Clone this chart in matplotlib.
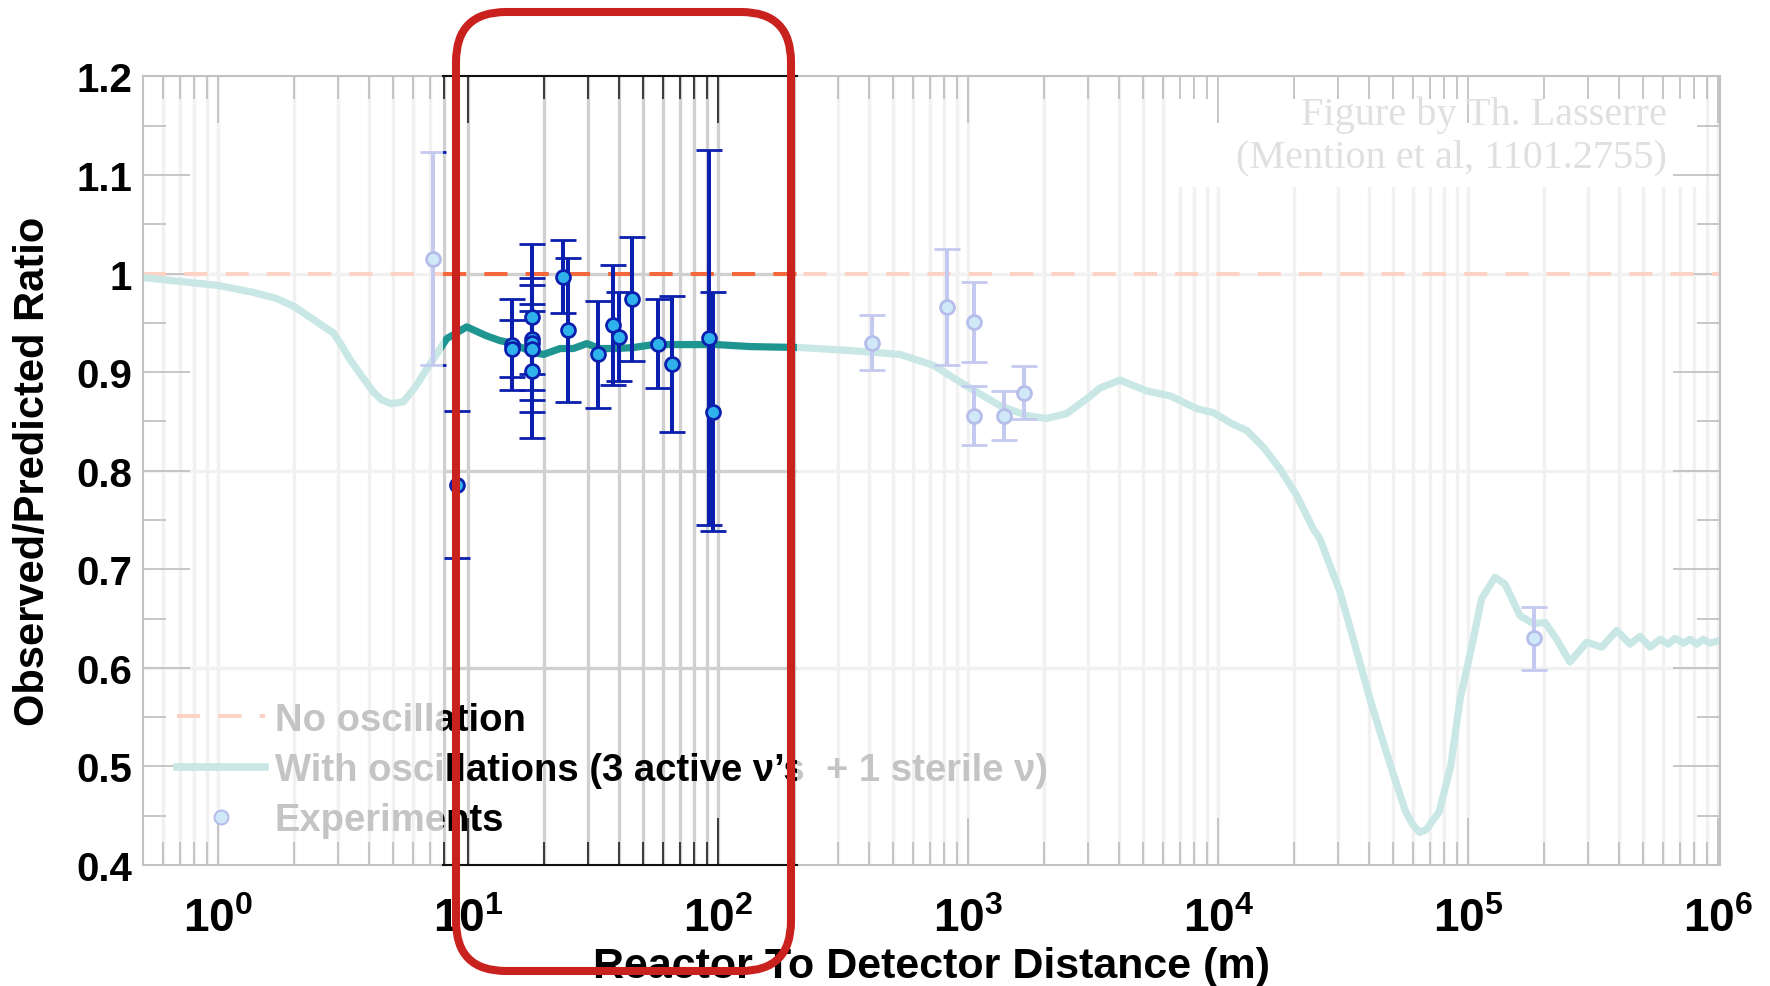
import numpy as np
import matplotlib
matplotlib.use('Agg')
import matplotlib.pyplot as plt
from matplotlib.ticker import LogLocator, FixedLocator, FixedFormatter, NullFormatter, MultipleLocator
from matplotlib.patches import FancyBboxPatch, Rectangle
from matplotlib.lines import Line2D
from matplotlib.transforms import IdentityTransform

plt.rcParams['font.family'] = ['Liberation Sans', 'DejaVu Sans']
plt.rcParams['font.weight'] = 'bold'
plt.rcParams['mathtext.fontset'] = 'custom'
plt.rcParams['mathtext.rm'] = 'Liberation Sans:bold'
plt.rcParams['mathtext.bf'] = 'Liberation Sans:bold'
plt.rcParams['mathtext.default'] = 'regular'

# ---------------- data ----------------
curve_distance = [0.5, 1.0, 1.38, 1.7, 2.0, 2.2, 2.48, 2.88, 3.1, 3.36, 3.75, 4.17, 4.5, 4.9, 5.5,
                  6.1, 6.82, 7.5, 8.2, 9.86, 11.8,
                  13.4, 14.7, 18.2, 20.0, 23.3, 26.3, 29.8, 33.6, 39.2, 45.7, 55.0, 72.4, 98.5,
                  134, 212, 336, 533, 725, 985, 1339, 1713, 2058, 2475, 2977, 3366, 4045, 5170,
                  6410, 8200, 9550, 11480, 12990, 15140, 17650, 20590, 23990, 25500, 30700,
                  34700, 40500, 45000, 49000, 56000, 60000, 64000, 68000, 72000, 76500, 85000,
                  92700, 104700, 113000,
                  127900, 140300, 161000, 182000, 203000, 225600, 255000, 297700, 342000, 392600,
                  443600, 486400, 533300, 584800, 631000, 671000, 724400, 770900, 819900, 871000,
                  926000, 1.016e6]
curve_ratio = [0.996, 0.988, 0.981, 0.975, 0.967, 0.960, 0.951, 0.940, 0.928, 0.913, 0.896, 0.880,
               0.872, 0.868, 0.870, 0.884, 0.903, 0.919, 0.934,
               0.946, 0.937, 0.932, 0.930, 0.920, 0.918, 0.924, 0.924, 0.929, 0.924, 0.924, 0.925,
               0.928, 0.928, 0.928, 0.926, 0.925, 0.922, 0.918, 0.907, 0.886, 0.866, 0.856, 0.853,
               0.858, 0.873, 0.884, 0.892, 0.881, 0.876, 0.863, 0.859, 0.847, 0.841, 0.824, 0.802,
               0.775, 0.741, 0.731, 0.677, 0.629, 0.568, 0.530, 0.500, 0.455, 0.441, 0.433, 0.436,
               0.445, 0.454, 0.500,
               0.568, 0.629, 0.670, 0.692, 0.685, 0.653, 0.645, 0.646, 0.629, 0.606, 0.626, 0.621,
               0.638, 0.624, 0.632, 0.621, 0.629, 0.624, 0.630, 0.625, 0.629, 0.624, 0.629, 0.625,
               0.628]

exp_distance = [7.24, 8.99, 14.9, 14.9, 18.0, 18.0, 18.0, 18.0, 18.0, 24.0, 25.1, 32.9, 38.0, 39.9,
                45.1, 57.2, 65.5, 92.0, 95.0, 413, 824, 1054, 1054, 1390, 1671, 183000]
exp_ratio = [1.015, 0.786, 0.928, 0.924, 0.956, 0.934, 0.930, 0.924, 0.901, 0.997, 0.943, 0.918,
             0.948, 0.936, 0.974, 0.929, 0.908, 0.935, 0.860, 0.930, 0.966, 0.951, 0.856, 0.856,
             0.879, 0.630]
exp_error = [0.108, 0.075, 0.046, 0.029, 0.074, 0.062, 0.032, 0.064, 0.068, 0.037, 0.073, 0.054,
             0.061, 0.045, 0.063, 0.045, 0.069, 0.190, 0.121, 0.028, 0.059, 0.041, 0.030, 0.025,
             0.027, 0.032]

no_oscillation_level = 1.0
ytick_values = [0.4, 0.5, 0.6, 0.7, 0.8, 0.9, 1.0, 1.1, 1.2]
ytick_labels = ['0.4', '0.5', '0.6', '0.7', '0.8', '0.9', '1', '1.1', '1.2']
grid_y = [0.6, 0.8, 1.0]
highlight_range = (7.93, 206.0)
legend_labels = ['No oscillation',
                 'With oscillations (3 active \u03bd\u2019s  + 1 sterile \u03bd)',
                 'Experiments']

# ---------------- styles ----------------
faded = dict(grid='#f1f1f1', dash='#fdd3c6', curve='#c8e7e5', ebar='#c4c9ef',
             mface='#cfe9f8', medge='#b6bdea', tick='#b8b8b8', spine='#c2c2c2')
dark = dict(grid='#d0d0d0', dash='#f4693c', curve='#1e9590', ebar='#0b1fae',
            mface='#2fb2ec', medge='#0b1fae', tick='#111111', spine='#111111')

fig = plt.figure(figsize=(17.7, 9.87), dpi=100)
ax = fig.add_axes([0.08079, 0.12259, 0.89096, 0.79889])


def setup_axis(a, xlim, st):
    a.set_xscale('log')
    a.set_xlim(*xlim)
    a.set_ylim(0.4, 1.2)
    a.xaxis.set_major_locator(LogLocator(base=10, numticks=20))
    a.xaxis.set_minor_locator(LogLocator(base=10, subs=np.arange(2, 10), numticks=100))
    a.xaxis.set_minor_formatter(NullFormatter())
    a.tick_params(axis='x', which='major', direction='in', length=34, width=1.1,
                  color=st['tick'], top=True, bottom=True)
    a.tick_params(axis='x', which='minor', direction='in', length=16.5, width=1.1,
                  color=st['tick'], top=True, bottom=True)
    for s in a.spines.values():
        s.set_color(st['spine'])
        s.set_linewidth(1.5)


def draw_layer(a, st):
    lo, hi = a.get_xlim()
    locs = list(a.xaxis.get_majorticklocs()) + list(a.xaxis.get_minorticklocs())
    for v in locs:
        if lo < v < hi:
            a.axvline(v, color=st['grid'], lw=2.4, zorder=0.3)
    for v in grid_y:
        a.axhline(v, color=st['grid'], lw=2.4, zorder=0.3)
    a.axhline(no_oscillation_level, color=st['dash'], lw=2.9, dashes=(5.75, 4.5), zorder=1.8)
    a.plot(curve_distance, curve_ratio, color=st['curve'], lw=5.2, solid_joinstyle='round',
           solid_capstyle='round', zorder=2)
    a.errorbar(exp_distance, exp_ratio, yerr=exp_error, fmt='o', ms=10, mfc=st['mface'],
               mec=st['medge'], mew=2.0, ecolor=st['ebar'], elinewidth=2.9, capsize=9.6,
               capthick=2.9, zorder=4)


# main (faded) axes
setup_axis(ax, (0.5, 1.016e6), faded)
ax.yaxis.set_major_locator(FixedLocator(ytick_values))
ax.yaxis.set_major_formatter(FixedFormatter(ytick_labels))
ax.yaxis.set_minor_locator(MultipleLocator(0.05))
ax.tick_params(axis='y', which='major', direction='in', length=34, width=1.1,
               color=faded['tick'], left=True, right=True, labelsize=29, pad=8)
ax.tick_params(axis='y', which='minor', direction='in', length=16.5, width=1.1,
               color=faded['tick'], left=True, right=True)
ax.tick_params(axis='x', which='major', labelsize=33, pad=23)
draw_layer(ax, faded)

# watermark box and text
ax.add_patch(Rectangle((0.651, 0.86), 0.34, 0.14, transform=ax.transAxes,
                       facecolor='white', edgecolor='none', zorder=0.6))
fig.text(0.942, 0.8734, 'Figure by Th. Lasserre', ha='right', va='baseline',
         family='Liberation Serif', fontweight='normal', size=29, color='#e0e0e0')
fig.text(0.942, 0.8308, '(Mention et al, 1101.2755)', ha='right', va='baseline',
         family='Liberation Serif', fontweight='normal', size=29, color='#e0e0e0')

ax.set_xlabel('Reactor To Detector Distance (m)', fontsize=31, fontweight='bold')
ax.xaxis.set_label_coords(0.5, -0.103)
ax.set_ylabel('Observed/Predicted Ratio', fontsize=30, fontweight='bold', va='center')
ax.yaxis.set_label_coords(-0.0700, 0.5)

handles = [Line2D([], [], color=faded['dash'], lw=2.9, dashes=(5.75, 4.5)),
           Line2D([], [], color=faded['curve'], lw=5.5),
           Line2D([], [], ls='none', marker='o', ms=10, mfc=faded['mface'], mec=faded['medge'], mew=1.5)]
leg = ax.legend(handles, legend_labels, loc='upper left', bbox_to_anchor=(0.0214, 0.207),
                frameon=False, prop={'size': 27.5, 'weight': 'bold'}, labelcolor='#c4c4c4',
                handlelength=2.3, handletextpad=0.27, labelspacing=0.37, borderpad=0,
                borderaxespad=0)

# highlighted (dark) axes over the selected distance range
px0 = ax.transData.transform((highlight_range[0], 1.0))[0]
px1 = ax.transData.transform((highlight_range[1], 1.0))[0]
inv = fig.transFigure.inverted()
fx0 = inv.transform((px0, 0))[0]
fx1 = inv.transform((px1, 0))[0]
pos = ax.get_position()
ax2 = fig.add_axes([fx0, pos.y0, fx1 - fx0, pos.height])
ax2.set_facecolor('white')
setup_axis(ax2, highlight_range, dark)
ax2.spines['left'].set_visible(False)
ax2.spines['right'].set_visible(False)
ax2.tick_params(axis='y', which='both', left=False, right=False, labelleft=False)
ax2.tick_params(axis='x', which='both', labelbottom=False)
draw_layer(ax2, dark)

fig.canvas.draw()
renderer = fig.canvas.get_renderer()
for t in leg.get_texts():
    bb = t.get_window_extent(renderer)
    dt = ax2.text(bb.x0, bb.y0, t.get_text(), transform=IdentityTransform(), ha='left',
                  va='bottom', fontproperties=t.get_fontproperties(), color='black',
                  zorder=6, clip_on=True)
    dt.set_clip_path(ax2.patch)

# red highlight frame
box = FancyBboxPatch((456, 15), 335, 959, boxstyle='round,pad=0,rounding_size=50',
                     transform=IdentityTransform(), fill=False, edgecolor='#c9211e',
                     linewidth=5.8, zorder=10)
fig.add_artist(box)

fig.savefig('out.png', dpi=100)
